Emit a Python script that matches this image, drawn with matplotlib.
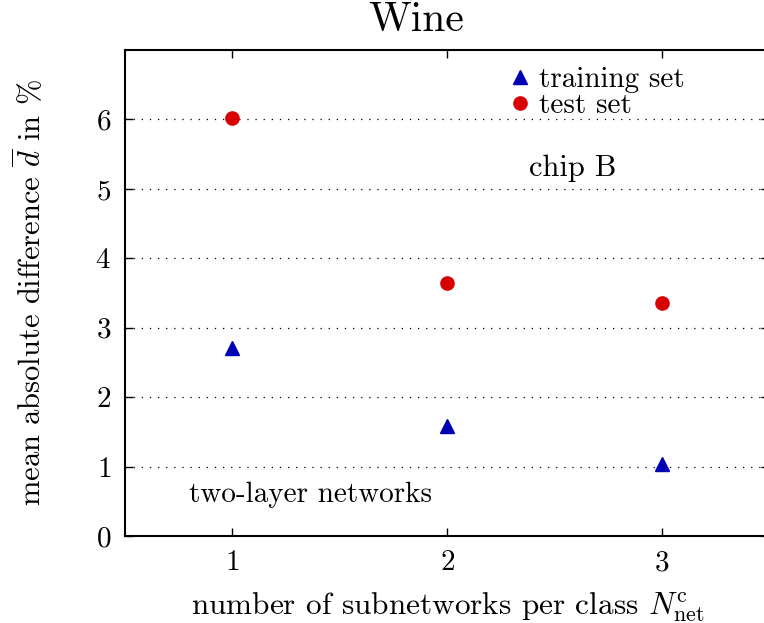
import numpy as np
import matplotlib
matplotlib.use('Agg')
import matplotlib.pyplot as plt

# data
n_subnets = [1, 2, 3]
train_diff = [2.71, 1.59, 1.04]
test_diff = [6.02, 3.65, 3.36]
y_ticks = [0, 1, 2, 3, 4, 5, 6]
grid_levels = [1, 2, 3, 4, 5, 6]

plt.rcParams['font.family'] = ['cmr10', 'DejaVu Serif']
plt.rcParams['mathtext.fontset'] = 'cm'
plt.rcParams['axes.formatter.use_mathtext'] = True

fig = plt.figure(figsize=(7.64, 6.23), dpi=100)
ax = fig.add_axes([125/764, 87/623, 644.5/764, 486/623])

for yv in grid_levels:
    ax.axhline(yv, color='black', linestyle=(0, (1, 5.5)), linewidth=0.9, zorder=0)

ax.plot(n_subnets, train_diff, '^', color='#0000b4', markersize=9.5,
        linestyle='none', label='training set')
ax.plot(n_subnets, test_diff, 'o', color='#d80000', markersize=9.5,
        linestyle='none', label='test set')

ax.set_xlim(0.5, 3.5)
ax.set_ylim(0, 7)
ax.set_xticks(n_subnets)
ax.set_yticks(y_ticks)
ax.tick_params(direction='in', top=True, right=True, length=6, width=1,
               labelsize=21, pad=10)
for s in ax.spines.values():
    s.set_linewidth(1.5)

ax.set_xlabel(r'number of subnetworks per class $N_{\mathrm{net}}^{\mathrm{c}}$',
              fontsize=22.5, labelpad=10)
ax.set_ylabel(r'mean absolute difference $\overline{d}$ in %', fontsize=22,
              labelpad=35)
fig.text(416/764, 1 - 20/623, 'Wine', fontsize=30, ha='center', va='center')

ax.text(2.38, 5.3, 'chip B', fontsize=22, ha='left', va='center')
ax.text(0.8, 0.6, 'two-layer networks', fontsize=21, ha='left', va='center')

ax.legend(loc='upper left', bbox_to_anchor=(0.57, 0.99), frameon=False,
          fontsize=21, handletextpad=0.1, labelspacing=0.0,
          handlelength=1.1, borderaxespad=0)

fig.savefig('out.png', dpi=100)
